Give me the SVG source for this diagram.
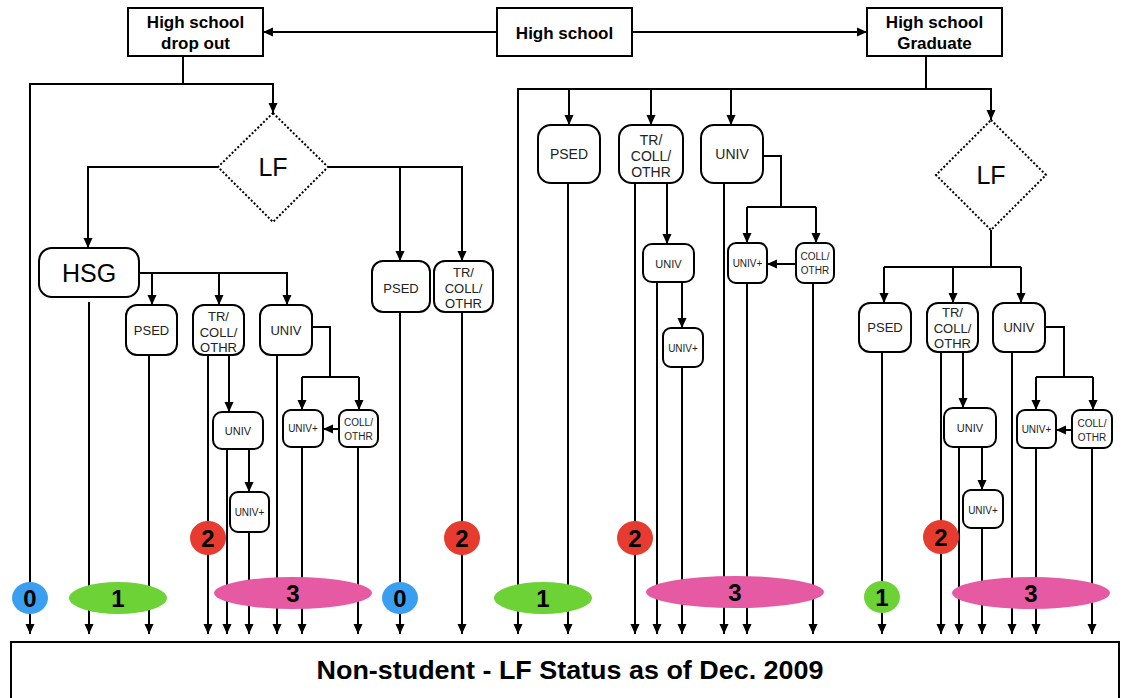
<svg xmlns="http://www.w3.org/2000/svg" width="1133" height="698" viewBox="0 0 1133 698">
<defs>
<marker id="ah" markerWidth="10" markerHeight="10" refX="10" refY="5" orient="auto" markerUnits="userSpaceOnUse"><path d="M0,0.5 L10,5 L0,9.5 z" fill="#000"/></marker>
<style>
.box{fill:#fff;stroke:#000;stroke-width:2}
.rb{fill:#fff;stroke:#000;stroke-width:2}
.dia{fill:#fff;stroke:#000;stroke-width:2;stroke-dasharray:2 2}
.c{fill:none;stroke:#000;stroke-width:2}
.a{fill:none;stroke:#000;stroke-width:2;marker-end:url(#ah)}
text{font-family:"Liberation Sans",Arial,Helvetica,sans-serif;text-anchor:middle;fill:#000}
.hb{font-size:17px;font-weight:bold}
.big{font-size:25px}
.m{font-size:13px;fill:#222}
.ml{font-size:14px;fill:#222}
.s{font-size:11px;fill:#222}
.xs{font-size:10px;fill:#222}
.num{font-size:24px;font-weight:bold}
.title{font-size:25px;font-weight:bold}
</style>
</defs>
<rect width="1133" height="698" fill="#fff"/>

<g id="connectors">
<path class="a" d="M497,32 H263"/>
<path class="a" d="M632,32 H867"/>
<path class="a" d="M183,56 V84 H273 V113"/>
<path class="a" d="M183,84 H30 V634"/>
<path class="a" d="M218,167 H88 V248"/>
<path class="a" d="M328,167 H462 V261"/>
<path class="a" d="M400,167 V261"/>
<path class="a" d="M89,302 V634"/>
<path class="a" d="M139,273 H287 V305"/>
<path class="a" d="M152,273 V305"/>
<path class="a" d="M219,273 V305"/>
<path class="a" d="M149,355 V634"/>
<path class="a" d="M208,355 V634"/>
<path class="a" d="M229,355 V412"/>
<path class="a" d="M227,449 V634"/>
<path class="a" d="M249,449 V492"/>
<path class="a" d="M249,532 V634"/>
<path class="a" d="M277,355 V634"/>
<path class="c" d="M312,327 H330 V377"/>
<path class="c" d="M302,377 H359"/>
<path class="a" d="M302,377 V410"/>
<path class="a" d="M359,377 V410"/>
<path class="a" d="M339,429 H323"/>
<path class="a" d="M302,447 V634"/>
<path class="a" d="M358,447 V634"/>
<path class="a" d="M400,312 V634"/>
<path class="a" d="M462,312 V634"/>
<path class="c" d="M926,56 V89"/>
<path class="a" d="M926,89 H991 V120"/>
<path class="a" d="M926,89 H518 V634"/>
<path class="a" d="M569,89 V125"/>
<path class="a" d="M651,89 V125"/>
<path class="a" d="M731,89 V125"/>
<path class="a" d="M568,183 V634"/>
<path class="a" d="M635,183 V634"/>
<path class="a" d="M667,183 V244"/>
<path class="a" d="M657,282 V634"/>
<path class="a" d="M682,282 V328"/>
<path class="a" d="M682,367 V634"/>
<path class="a" d="M724,183 V634"/>
<path class="c" d="M763,156 H781 V207"/>
<path class="c" d="M747,207 H816"/>
<path class="a" d="M747,207 V243"/>
<path class="a" d="M816,207 V243"/>
<path class="a" d="M796,264 H767"/>
<path class="a" d="M747,283 V634"/>
<path class="a" d="M813,283 V634"/>
<path class="c" d="M991,230 V267"/>
<path class="c" d="M884,267 H1021"/>
<path class="a" d="M884,267 V303"/>
<path class="a" d="M953,267 V303"/>
<path class="a" d="M1021,267 V303"/>
<path class="a" d="M882,352 V634"/>
<path class="a" d="M941,352 V634"/>
<path class="a" d="M963,352 V408"/>
<path class="a" d="M959,447 V634"/>
<path class="a" d="M982,447 V490"/>
<path class="a" d="M982,528 V634"/>
<path class="a" d="M1012,352 V634"/>
<path class="c" d="M1045,327 H1064 V377"/>
<path class="c" d="M1036,377 H1093"/>
<path class="a" d="M1036,377 V410"/>
<path class="a" d="M1093,377 V410"/>
<path class="a" d="M1072,430 H1056"/>
<path class="a" d="M1036,448 V634"/>
<path class="a" d="M1092,448 V634"/>
</g>

<g id="hs-dropout"><rect class="box" x="128" y="8" width="135" height="48"/><text class="hb" x="195.5" y="28">High school</text><text class="hb" x="195.5" y="49">drop out</text></g>
<g id="hs"><rect class="box" x="497" y="8" width="135" height="48"/><text class="hb" x="564.5" y="39">High school</text></g>
<g id="hs-grad"><rect class="box" x="867" y="8" width="135" height="48"/><text class="hb" x="934.5" y="28">High school</text><text class="hb" x="934.5" y="49">Graduate</text></g>

<g id="lf-left"><polygon class="dia" points="273,113 328,167 273,222 218,167"/><text class="big" x="273" y="176">LF</text></g>
<g id="lf-right"><polygon class="dia" points="991,120 1046,175 991,230 936,175"/><text class="big" x="991" y="184">LF</text></g>

<g id="hsg"><rect class="rb" x="39" y="248" width="100" height="49" rx="13"/><text class="big" x="89" y="282">HSG</text></g>

<g id="psed-a"><rect class="rb" x="126" y="305" width="51" height="50" rx="11"/><text class="m" x="151.5" y="335">PSED</text></g>
<g id="tr-a"><rect class="rb" x="193" y="305" width="51" height="50" rx="11"/><text class="m" x="218.5" y="321">TR/</text><text class="m" x="218.5" y="337">COLL/</text><text class="m" x="218.5" y="352">OTHR</text></g>
<g id="univ-a"><rect class="rb" x="260" y="305" width="52" height="50" rx="11"/><text class="m" x="286" y="335">UNIV</text></g>
<g id="univ-a2"><rect class="rb" x="213" y="412" width="50" height="37" rx="9"/><text class="s" x="238" y="435">UNIV</text></g>
<g id="univp-a3"><rect class="rb" x="230" y="492" width="39" height="40" rx="8"/><text class="xs" x="249.5" y="516">UNIV+</text></g>
<g id="univp-a"><rect class="rb" x="283" y="410" width="40" height="37" rx="8"/><text class="xs" x="303" y="432">UNIV+</text></g>
<g id="coll-a"><rect class="rb" x="339" y="410" width="39" height="37" rx="8"/><text class="xs" x="358.5" y="426">COLL/</text><text class="xs" x="358.5" y="440">OTHR</text></g>

<g id="psed-b"><rect class="rb" x="372" y="261" width="58" height="51" rx="11"/><text class="m" x="401" y="293">PSED</text></g>
<g id="tr-b"><rect class="rb" x="434" y="261" width="59" height="51" rx="11"/><text class="m" x="463.5" y="277">TR/</text><text class="m" x="463.5" y="293">COLL/</text><text class="m" x="463.5" y="308">OTHR</text></g>

<g id="psed-c"><rect class="rb" x="538" y="125" width="62" height="58" rx="13"/><text class="ml" x="569" y="159">PSED</text></g>
<g id="tr-c"><rect class="rb" x="619" y="125" width="64" height="58" rx="13"/><text class="ml" x="651" y="145">TR/</text><text class="ml" x="651" y="161">COLL/</text><text class="ml" x="651" y="177">OTHR</text></g>
<g id="univ-c"><rect class="rb" x="701" y="125" width="62" height="58" rx="13"/><text class="ml" x="732" y="159">UNIV</text></g>
<g id="univ-c2"><rect class="rb" x="643" y="244" width="51" height="38" rx="9"/><text class="s" x="668.5" y="268">UNIV</text></g>
<g id="univp-c3"><rect class="rb" x="663" y="328" width="40" height="39" rx="8"/><text class="xs" x="683" y="352">UNIV+</text></g>
<g id="univp-c"><rect class="rb" x="728" y="243" width="39" height="40" rx="8"/><text class="xs" x="747.5" y="267">UNIV+</text></g>
<g id="coll-c"><rect class="rb" x="796" y="243" width="38" height="40" rx="8"/><text class="xs" x="815" y="260">COLL/</text><text class="xs" x="815" y="274">OTHR</text></g>

<g id="psed-d"><rect class="rb" x="859" y="303" width="52" height="49" rx="11"/><text class="m" x="885" y="332">PSED</text></g>
<g id="tr-d"><rect class="rb" x="927" y="303" width="51" height="49" rx="11"/><text class="m" x="952.5" y="317">TR/</text><text class="m" x="952.5" y="333">COLL/</text><text class="m" x="952.5" y="348">OTHR</text></g>
<g id="univ-d"><rect class="rb" x="993" y="303" width="52" height="49" rx="11"/><text class="m" x="1019" y="332">UNIV</text></g>
<g id="univ-d2"><rect class="rb" x="944" y="408" width="52" height="39" rx="9"/><text class="s" x="970" y="432">UNIV</text></g>
<g id="univp-d3"><rect class="rb" x="963" y="490" width="40" height="38" rx="8"/><text class="xs" x="983" y="514">UNIV+</text></g>
<g id="univp-d"><rect class="rb" x="1017" y="410" width="39" height="38" rx="8"/><text class="xs" x="1036.5" y="433">UNIV+</text></g>
<g id="coll-d"><rect class="rb" x="1072" y="410" width="40" height="38" rx="8"/><text class="xs" x="1092" y="427">COLL/</text><text class="xs" x="1092" y="441">OTHR</text></g>

<g id="status-badges">
<ellipse cx="30" cy="598" rx="18" ry="16" fill="#3a9ff0"/><text class="num" x="30" y="607">0</text>
<ellipse cx="118" cy="598" rx="49" ry="16" fill="#6cd235"/><text class="num" x="118" y="607">1</text>
<ellipse cx="208" cy="538" rx="18" ry="17" fill="#e63b2e"/><text class="num" x="208" y="547">2</text>
<ellipse cx="293" cy="593" rx="79" ry="16" fill="#e65aa4"/><text class="num" x="293" y="602">3</text>
<ellipse cx="400" cy="598" rx="18" ry="16" fill="#3a9ff0"/><text class="num" x="400" y="607">0</text>
<ellipse cx="462" cy="538" rx="18" ry="17" fill="#e63b2e"/><text class="num" x="462" y="547">2</text>
<ellipse cx="543" cy="598" rx="49" ry="16" fill="#6cd235"/><text class="num" x="543" y="607">1</text>
<ellipse cx="635" cy="538" rx="18" ry="17" fill="#e63b2e"/><text class="num" x="635" y="547">2</text>
<ellipse cx="735" cy="592" rx="89" ry="16" fill="#e65aa4"/><text class="num" x="735" y="601">3</text>
<ellipse cx="882" cy="597" rx="18" ry="16" fill="#6cd235"/><text class="num" x="882" y="606">1</text>
<ellipse cx="941" cy="537" rx="18" ry="17" fill="#e63b2e"/><text class="num" x="941" y="546">2</text>
<ellipse cx="1031" cy="593" rx="79" ry="16" fill="#e65aa4"/><text class="num" x="1031" y="602">3</text>
</g>

<g id="non-student"><rect class="box" x="11" y="642" width="1108" height="70"/><text class="title" x="570" y="679" textLength="507" lengthAdjust="spacingAndGlyphs">Non-student - LF Status as of Dec. 2009</text></g>
</svg>
